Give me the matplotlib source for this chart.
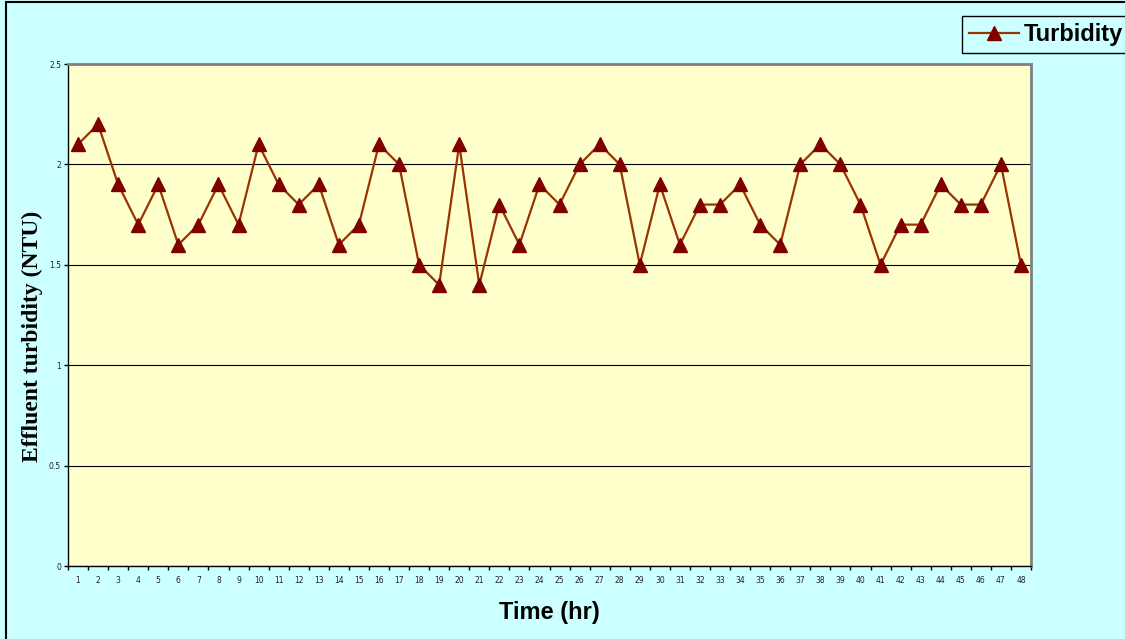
import matplotlib
matplotlib.use("Agg")
import matplotlib.pyplot as plt
from matplotlib.patches import Rectangle

# hourly effluent turbidity readings
hours = list(range(1, 49))
turbidity = [2.1, 2.2, 1.9, 1.7, 1.9, 1.6, 1.7, 1.9, 1.7, 2.1,
             1.9, 1.8, 1.9, 1.6, 1.7, 2.1, 2.0, 1.5, 1.4, 2.1,
             1.4, 1.8, 1.6, 1.9, 1.8, 2.0, 2.1, 2.0, 1.5, 1.9,
             1.6, 1.8, 1.8, 1.9, 1.7, 1.6, 2.0, 2.1, 2.0, 1.8,
             1.5, 1.7, 1.7, 1.9, 1.8, 1.8, 2.0, 1.5]
y_ticks = [0, 0.5, 1, 1.5, 2, 2.5]
y_tick_labels = ["0", "0.5", "1", "1.5", "2", "2.5"]

W, H = 1125, 639
fig = plt.figure(figsize=(W / 100, H / 100), dpi=100)
fig.patch.set_facecolor("#CCFFFF")

# outer chart frame
fig.patches.append(Rectangle((6 / W, -0.1), 1.2, 1.1 - 2 / H,
                             transform=fig.transFigure, fill=False,
                             edgecolor="black", linewidth=1.5))

ax = fig.add_axes([68 / W, 1 - 566 / H, (1031 - 68) / W, (566 - 64) / H])
ax.set_facecolor("#FFFFCC")

ax.plot(hours, turbidity, color="#993300", linewidth=1.6, marker="^",
        markersize=10, markerfacecolor="#800000", markeredgecolor="#800000",
        label="Turbidity", zorder=3)

ax.set_xlim(0.5, 48.5)
ax.set_ylim(0, 2.5)
ax.set_yticks(y_ticks)
ax.set_yticklabels(y_tick_labels)
ax.set_xticks(hours)
ax.set_xticklabels([str(h) for h in hours])
ax.set_xticks([h + 0.5 for h in range(0, 49)], minor=True)
ax.tick_params(axis="x", which="major", length=0, pad=7, labelsize=5.5,
               labelcolor="#222222")
ax.tick_params(axis="x", which="minor", length=3, width=1, direction="out")
ax.tick_params(axis="y", length=3, width=1, pad=2, labelsize=5.5,
               labelcolor="#222222")
ax.yaxis.grid(True, color="black", linewidth=0.8)
ax.set_axisbelow(True)

for side in ("top", "right"):
    ax.spines[side].set_color("#808080")
    ax.spines[side].set_linewidth(2)
for side in ("left", "bottom"):
    ax.spines[side].set_color("black")
    ax.spines[side].set_linewidth(1)

fig.text(32 / W, 1 - 336 / H, "Effluent turbidity (NTU)", rotation=90,
         ha="center", va="center", fontsize=17, fontweight="bold",
         family="Liberation Serif")
fig.text(549.5 / W, 1 - 619 / H, "Time (hr)", ha="center", va="baseline",
         fontsize=17, fontweight="bold", family="Liberation Sans")

leg = ax.legend(loc="upper left", bbox_to_anchor=(962 / W, 1 - 16 / H),
                bbox_transform=fig.transFigure, borderaxespad=0,
                fancybox=False, framealpha=1, facecolor="#CCFFFF",
                edgecolor="black", handlelength=2.1, handletextpad=0.2,
                borderpad=0.3, prop={"family": "Liberation Sans",
                                     "weight": "bold", "size": 17})
leg.get_frame().set_linewidth(1)

fig.savefig("out.png", dpi=100, facecolor=fig.get_facecolor())
